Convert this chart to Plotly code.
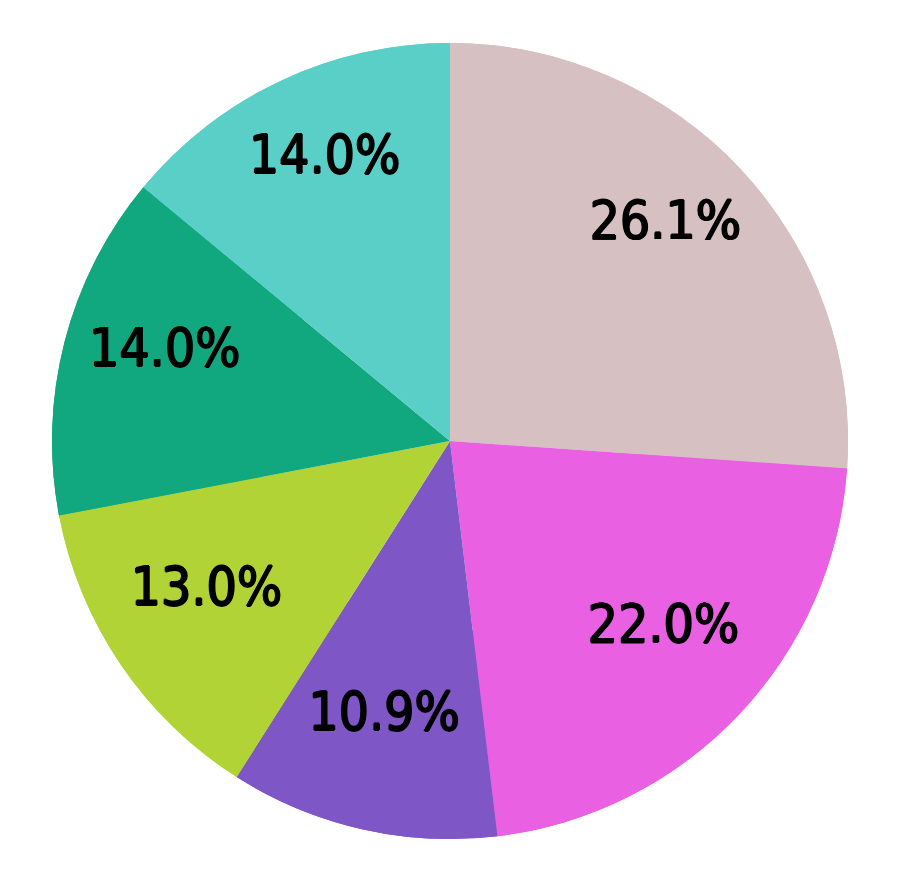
import plotly.graph_objects as go

labels = ["A", "B", "C", "D", "E", "F"]
values = [26.1, 22.0, 10.9, 13.0, 14.0, 14.0]
colors = ["#d6c0c1", "#e960e2", "#7f56c5", "#b2d335", "#12a87f", "#5acfc7"]

common = dict(
    labels=labels,
    values=values,
    sort=False,
    direction="clockwise",
    rotation=0,
    marker=dict(colors=colors, line=dict(width=0)),
    showlegend=False,
)

# full disc underneath
fig = go.Figure(go.Pie(textinfo="none", hoverinfo="skip", **common))
# ring on top carrying the labels (pushes them outward)
fig.add_trace(go.Pie(
    hole=0.48,
    texttemplate="<span style='font-size:53px'>%{value:.1f}%</span><br><span style='font-size:1px'> </span>",
    textposition="inside",
    insidetextorientation="horizontal",
    textfont=dict(
        family="DejaVu Sans Condensed, DejaVu Sans, sans-serif", size=40, color="#000000",
        shadow="0.9px 0 0 #000, -0.9px 0 0 #000, 0 0.6px 0 #000, 0 -0.6px 0 #000",
    ),
    hoverinfo="label+percent",
    **common,
))

fig.update_layout(
    width=900, height=883,
    margin=dict(l=43, r=59, t=35, b=52),
    paper_bgcolor="white",
    plot_bgcolor="white",
    uniformtext=dict(minsize=40, mode="show"),
)

fig.write_html("out.html")
